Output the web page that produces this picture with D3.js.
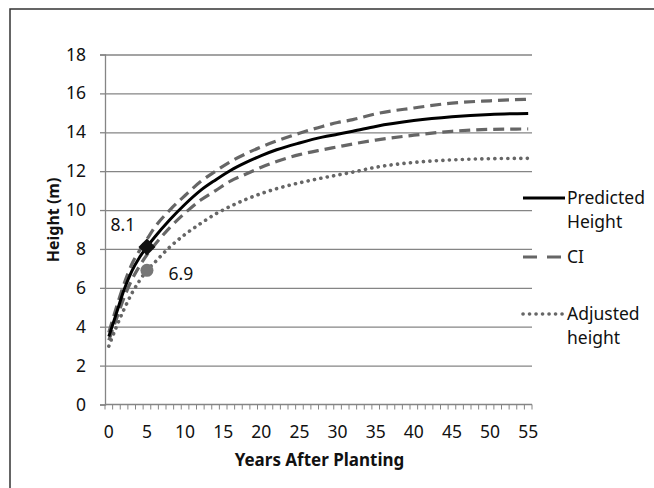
<!DOCTYPE html>
<html>
<head>
<meta charset="utf-8">
<script src="https://cdn.jsdelivr.net/npm/d3@7"></script>
<style>
  html, body { margin: 0; padding: 0; background: #fff; }
  svg { display: block; }
  text { font-family: "Noto Sans", "Open Sans", sans-serif; fill: #111; }
</style>
</head>
<body>
<svg id="chart" width="654" height="488"></svg>
<script>
// ---- data ----
const years     = [0, 1, 2, 3, 4, 5, 6, 8, 10, 12, 14, 16, 18, 20, 22, 25, 28, 30, 32, 35, 40, 45, 50, 55];
const predicted = [3.5, 4.7, 5.9, 6.85, 7.55, 8.1, 8.6, 9.5, 10.3, 11.0, 11.55, 12.05, 12.45, 12.8, 13.1, 13.45, 13.75, 13.9, 14.05, 14.3, 14.6, 14.8, 14.92, 14.97];
const ciUpper   = [3.7, 5.0, 6.2, 7.2, 7.9, 8.5, 9.1, 10.0, 10.75, 11.45, 12.0, 12.5, 12.9, 13.25, 13.55, 13.95, 14.3, 14.5, 14.65, 14.95, 15.25, 15.5, 15.62, 15.7];
const ciLower   = [3.3, 4.4, 5.5, 6.4, 7.1, 7.7, 8.2, 9.1, 9.85, 10.5, 11.0, 11.5, 11.85, 12.2, 12.5, 12.85, 13.1, 13.25, 13.4, 13.6, 13.85, 14.05, 14.15, 14.17];
const adjusted  = [3.0, 4.0, 4.9, 5.7, 6.35, 6.9, 7.3, 8.1, 8.75, 9.3, 9.8, 10.2, 10.55, 10.85, 11.1, 11.4, 11.65, 11.8, 11.95, 12.2, 12.45, 12.58, 12.64, 12.66];
const xTickLabels = [0, 5, 10, 15, 20, 25, 30, 35, 40, 45, 50, 55];
const yTickLabels = [0, 2, 4, 6, 8, 10, 12, 14, 16, 18];
const markerPredicted = { year: 5, value: 8.1, label: "8.1" };
const markerAdjusted  = { year: 5, value: 6.9, label: "6.9" };
const legendItems = [
  { lines: ["Predicted", "Height"], key: "pred" },
  { lines: ["CI"], key: "ci" },
  { lines: ["Adjusted", "height"], key: "adj" }
];

// ---- layout ----
const svg = d3.select("#chart");
const x = d3.scaleLinear().domain([-0.5, 55.5]).range([105, 532]);
const y = d3.scaleLinear().domain([0, 18]).range([404.5, 54.5]);
const gridColor = "#858585";
const fontSize = 17.5;

// frame
svg.append("rect").attr("x", 10).attr("y", 9).attr("width", 700).attr("height", 540)
  .attr("fill", "#fff").attr("stroke", "#333").attr("stroke-width", 1.5);

// gridlines + y ticks
const yAxis = d3.axisLeft(y).tickValues(yTickLabels).tickSize(5).tickPadding(14).tickFormat(d3.format("d"));
const gy = svg.append("g").attr("transform", `translate(${x.range()[0]},0)`).call(yAxis);
gy.select(".domain").attr("stroke", gridColor).attr("stroke-width", 1.3);
gy.selectAll(".tick line").attr("stroke", gridColor).attr("stroke-width", 1.3);
gy.selectAll(".tick text").attr("font-size", fontSize).attr("font-family", "Noto Sans").attr("fill", "#111");
gy.selectAll(".tick").filter(d => d > 0).append("line")
  .attr("x1", 0).attr("x2", x.range()[1] - x.range()[0])
  .attr("stroke", gridColor).attr("stroke-width", 1.3);

// x axis: minor ticks at category boundaries, labels every 5
const boundaries = d3.range(-0.5, 56, 1);
const gx = svg.append("g").attr("transform", `translate(0,${y(0)})`);
gx.append("line").attr("x1", x.range()[0]).attr("x2", x.range()[1])
  .attr("stroke", gridColor).attr("stroke-width", 1.3);
gx.selectAll("line.minor").data(boundaries).join("line").attr("class", "minor")
  .attr("x1", d => x(d)).attr("x2", d => x(d)).attr("y1", 0).attr("y2", 5)
  .attr("stroke", gridColor).attr("stroke-width", 1);
gx.selectAll("text").data(xTickLabels).join("text")
  .attr("x", d => x(d)).attr("y", 33).attr("text-anchor", "middle")
  .attr("font-size", fontSize).text(d => d);

// axis titles
svg.append("text").attr("x", x(27.5) + 1).attr("y", 466).attr("text-anchor", "middle")
  .attr("font-size", 17).attr("font-weight", "bold").text("Years After Planting");
svg.append("text").attr("transform", "translate(59,220) rotate(-90)").attr("text-anchor", "middle")
  .attr("font-size", 16).attr("font-weight", "bold").text("Height (m)");

// series
const line = (vals) => d3.line().x((d, i) => x(years[i])).y(d => y(d)).curve(d3.curveMonotoneX)(vals);
const seriesStyle = {
  pred: { stroke: "#000", width: 3, dash: null, cap: "butt" },
  ci:   { stroke: "#666", width: 3.2, dash: "11,6", cap: "butt" },
  adj:  { stroke: "#666", width: 3.6, dash: "0.1,6.4", cap: "round" }
};
function drawSeries(vals, st) {
  svg.append("path").attr("d", line(vals)).attr("fill", "none")
    .attr("stroke", st.stroke).attr("stroke-width", st.width)
    .attr("stroke-dasharray", st.dash).attr("stroke-linecap", st.cap);
}
drawSeries(adjusted, seriesStyle.adj);
drawSeries(ciUpper, seriesStyle.ci);
drawSeries(ciLower, seriesStyle.ci);
drawSeries(predicted, seriesStyle.pred);

// markers
const mx = x(markerPredicted.year), my = y(markerPredicted.value);
svg.append("rect").attr("x", -6).attr("y", -6).attr("width", 12).attr("height", 12)
  .attr("transform", `translate(${mx},${my}) rotate(45)`).attr("fill", "#111");
svg.append("text").attr("x", mx - 24).attr("y", my - 16).attr("text-anchor", "middle")
  .attr("font-size", fontSize).text(markerPredicted.label);
const cx = x(markerAdjusted.year), cy = y(markerAdjusted.value);
svg.append("circle").attr("cx", cx).attr("cy", cy).attr("r", 6.5).attr("fill", "#777");
svg.append("text").attr("x", cx + 34).attr("y", cy + 10).attr("text-anchor", "middle")
  .attr("font-size", fontSize).text(markerAdjusted.label);

// legend
const legY = [198, 257, 314];
const lg = svg.append("g");
legendItems.forEach((it, i) => {
  const st = seriesStyle[it.key];
  const isCI = it.key === "ci";
  lg.append("line").attr("x1", 523).attr("x2", isCI ? 561 : 565).attr("y1", legY[i]).attr("y2", legY[i])
    .attr("stroke", st.stroke).attr("stroke-width", st.width)
    .attr("stroke-dasharray", isCI ? "14,10" : st.dash)
    .attr("stroke-linecap", st.cap);
  it.lines.forEach((t, j) => {
    lg.append("text").attr("x", 567).attr("y", legY[i] + 6 + j * 24)
      .attr("font-size", fontSize).text(t);
  });
});
</script>
</body>
</html>
